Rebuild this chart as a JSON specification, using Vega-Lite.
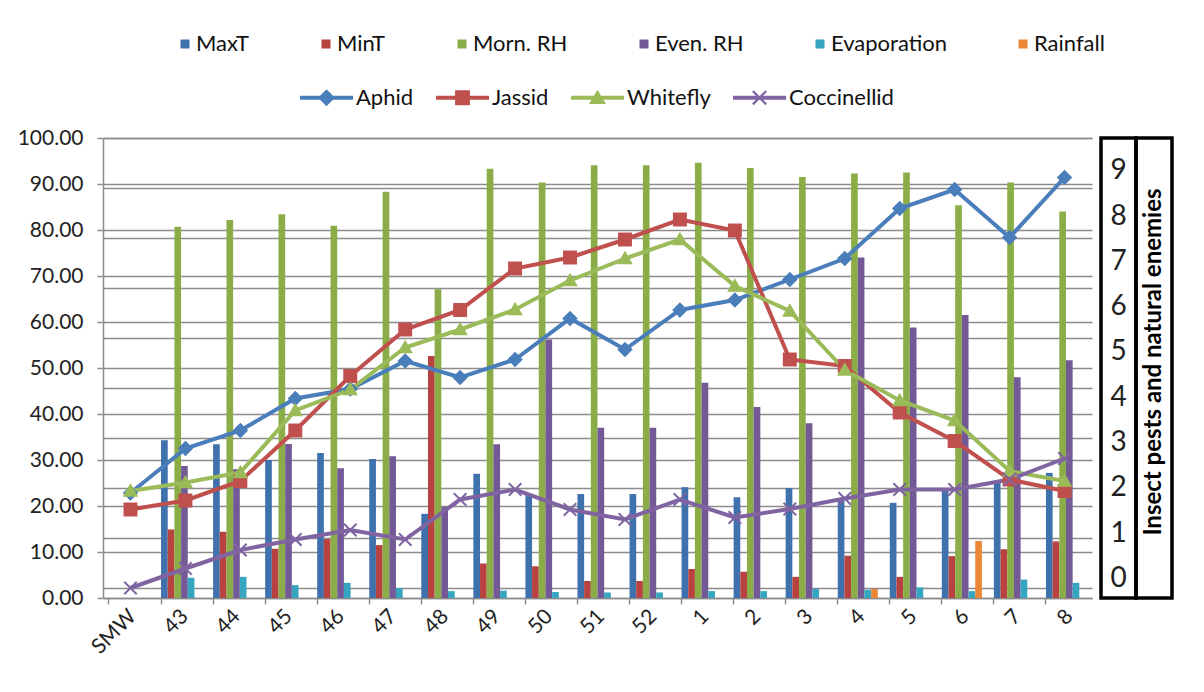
{
  "$schema": "https://vega.github.io/schema/vega-lite/v6.json",
  "background": "white",
  "padding": {"left": 8, "top": 33, "right": 5, "bottom": 5},
  "config": {
    "font": "Lato",
    "axis": {"labelFont": "Lato", "labelColor": "#222222", "domainColor": "#8c8c8c", "tickColor": "#8c8c8c", "gridColor": "#8c8c8c", "gridWidth": 1.5, "domainWidth": 1.5, "tickWidth": 1.5},
    "legend": {"labelFont": "Lato", "labelColor": "#111111"}
  },
  "datasets": {
    "weather": [
      {"week": "43", "var": "MaxT", "value": 34.3}, {"week": "43", "var": "MinT", "value": 14.9}, {"week": "43", "var": "Morn. RH", "value": 80.7}, {"week": "43", "var": "Even. RH", "value": 28.7}, {"week": "43", "var": "Evaporation", "value": 4.4}, {"week": "43", "var": "Rainfall", "value": 0},
      {"week": "44", "var": "MaxT", "value": 33.4}, {"week": "44", "var": "MinT", "value": 14.4}, {"week": "44", "var": "Morn. RH", "value": 82.2}, {"week": "44", "var": "Even. RH", "value": 28.0}, {"week": "44", "var": "Evaporation", "value": 4.6}, {"week": "44", "var": "Rainfall", "value": 0},
      {"week": "45", "var": "MaxT", "value": 30.0}, {"week": "45", "var": "MinT", "value": 10.7}, {"week": "45", "var": "Morn. RH", "value": 83.4}, {"week": "45", "var": "Even. RH", "value": 33.5}, {"week": "45", "var": "Evaporation", "value": 2.8}, {"week": "45", "var": "Rainfall", "value": 0},
      {"week": "46", "var": "MaxT", "value": 31.5}, {"week": "46", "var": "MinT", "value": 12.8}, {"week": "46", "var": "Morn. RH", "value": 80.9}, {"week": "46", "var": "Even. RH", "value": 28.2}, {"week": "46", "var": "Evaporation", "value": 3.3}, {"week": "46", "var": "Rainfall", "value": 0},
      {"week": "47", "var": "MaxT", "value": 30.2}, {"week": "47", "var": "MinT", "value": 11.5}, {"week": "47", "var": "Morn. RH", "value": 88.3}, {"week": "47", "var": "Even. RH", "value": 30.8}, {"week": "47", "var": "Evaporation", "value": 2.1}, {"week": "47", "var": "Rainfall", "value": 0},
      {"week": "48", "var": "MaxT", "value": 18.3}, {"week": "48", "var": "MinT", "value": 52.6}, {"week": "48", "var": "Morn. RH", "value": 67.1}, {"week": "48", "var": "Even. RH", "value": 19.8}, {"week": "48", "var": "Evaporation", "value": 1.5}, {"week": "48", "var": "Rainfall", "value": 0},
      {"week": "49", "var": "MaxT", "value": 27.0}, {"week": "49", "var": "MinT", "value": 7.5}, {"week": "49", "var": "Morn. RH", "value": 93.3}, {"week": "49", "var": "Even. RH", "value": 33.4}, {"week": "49", "var": "Evaporation", "value": 1.6}, {"week": "49", "var": "Rainfall", "value": 0},
      {"week": "50", "var": "MaxT", "value": 22.4}, {"week": "50", "var": "MinT", "value": 6.9}, {"week": "50", "var": "Morn. RH", "value": 90.3}, {"week": "50", "var": "Even. RH", "value": 56.2}, {"week": "50", "var": "Evaporation", "value": 1.3}, {"week": "50", "var": "Rainfall", "value": 0},
      {"week": "51", "var": "MaxT", "value": 22.6}, {"week": "51", "var": "MinT", "value": 3.7}, {"week": "51", "var": "Morn. RH", "value": 94.1}, {"week": "51", "var": "Even. RH", "value": 37.0}, {"week": "51", "var": "Evaporation", "value": 1.2}, {"week": "51", "var": "Rainfall", "value": 0},
      {"week": "52", "var": "MaxT", "value": 22.6}, {"week": "52", "var": "MinT", "value": 3.7}, {"week": "52", "var": "Morn. RH", "value": 94.1}, {"week": "52", "var": "Even. RH", "value": 37.0}, {"week": "52", "var": "Evaporation", "value": 1.2}, {"week": "52", "var": "Rainfall", "value": 0},
      {"week": "1", "var": "MaxT", "value": 24.1}, {"week": "1", "var": "MinT", "value": 6.3}, {"week": "1", "var": "Morn. RH", "value": 94.6}, {"week": "1", "var": "Even. RH", "value": 46.8}, {"week": "1", "var": "Evaporation", "value": 1.5}, {"week": "1", "var": "Rainfall", "value": 0},
      {"week": "2", "var": "MaxT", "value": 21.9}, {"week": "2", "var": "MinT", "value": 5.7}, {"week": "2", "var": "Morn. RH", "value": 93.5}, {"week": "2", "var": "Even. RH", "value": 41.5}, {"week": "2", "var": "Evaporation", "value": 1.5}, {"week": "2", "var": "Rainfall", "value": 0},
      {"week": "3", "var": "MaxT", "value": 23.9}, {"week": "3", "var": "MinT", "value": 4.6}, {"week": "3", "var": "Morn. RH", "value": 91.5}, {"week": "3", "var": "Even. RH", "value": 38.0}, {"week": "3", "var": "Evaporation", "value": 2.0}, {"week": "3", "var": "Rainfall", "value": 0},
      {"week": "4", "var": "MaxT", "value": 21.1}, {"week": "4", "var": "MinT", "value": 9.2}, {"week": "4", "var": "Morn. RH", "value": 92.3}, {"week": "4", "var": "Even. RH", "value": 74.0}, {"week": "4", "var": "Evaporation", "value": 1.8}, {"week": "4", "var": "Rainfall", "value": 2.0},
      {"week": "5", "var": "MaxT", "value": 20.7}, {"week": "5", "var": "MinT", "value": 4.6}, {"week": "5", "var": "Morn. RH", "value": 92.5}, {"week": "5", "var": "Even. RH", "value": 58.8}, {"week": "5", "var": "Evaporation", "value": 2.3}, {"week": "5", "var": "Rainfall", "value": 0},
      {"week": "6", "var": "MaxT", "value": 23.3}, {"week": "6", "var": "MinT", "value": 9.1}, {"week": "6", "var": "Morn. RH", "value": 85.4}, {"week": "6", "var": "Even. RH", "value": 61.5}, {"week": "6", "var": "Evaporation", "value": 1.5}, {"week": "6", "var": "Rainfall", "value": 12.4},
      {"week": "7", "var": "MaxT", "value": 25.0}, {"week": "7", "var": "MinT", "value": 10.6}, {"week": "7", "var": "Morn. RH", "value": 90.3}, {"week": "7", "var": "Even. RH", "value": 48.0}, {"week": "7", "var": "Evaporation", "value": 4.0}, {"week": "7", "var": "Rainfall", "value": 0},
      {"week": "8", "var": "MaxT", "value": 27.2}, {"week": "8", "var": "MinT", "value": 12.3}, {"week": "8", "var": "Morn. RH", "value": 84.0}, {"week": "8", "var": "Even. RH", "value": 51.7}, {"week": "8", "var": "Evaporation", "value": 3.3}, {"week": "8", "var": "Rainfall", "value": 0}
    ],
    "insects": [
      {"week": "43", "series": "Aphid", "value": 1.90}, {"week": "44", "series": "Aphid", "value": 2.79}, {"week": "45", "series": "Aphid", "value": 3.15}, {"week": "46", "series": "Aphid", "value": 3.79}, {"week": "47", "series": "Aphid", "value": 3.98}, {"week": "48", "series": "Aphid", "value": 4.54}, {"week": "49", "series": "Aphid", "value": 4.21}, {"week": "50", "series": "Aphid", "value": 4.57}, {"week": "51", "series": "Aphid", "value": 5.39}, {"week": "52", "series": "Aphid", "value": 4.77}, {"week": "1", "series": "Aphid", "value": 5.56}, {"week": "2", "series": "Aphid", "value": 5.76}, {"week": "3", "series": "Aphid", "value": 6.17}, {"week": "4", "series": "Aphid", "value": 6.59}, {"week": "5", "series": "Aphid", "value": 7.59}, {"week": "6", "series": "Aphid", "value": 7.97}, {"week": "7", "series": "Aphid", "value": 7.01}, {"week": "8", "series": "Aphid", "value": 8.21},
      {"week": "43", "series": "Jassid", "value": 1.57}, {"week": "44", "series": "Jassid", "value": 1.75}, {"week": "45", "series": "Jassid", "value": 2.14}, {"week": "46", "series": "Jassid", "value": 3.15}, {"week": "47", "series": "Jassid", "value": 4.24}, {"week": "48", "series": "Jassid", "value": 5.17}, {"week": "49", "series": "Jassid", "value": 5.56}, {"week": "50", "series": "Jassid", "value": 6.39}, {"week": "51", "series": "Jassid", "value": 6.61}, {"week": "52", "series": "Jassid", "value": 6.97}, {"week": "1", "series": "Jassid", "value": 7.37}, {"week": "2", "series": "Jassid", "value": 7.15}, {"week": "3", "series": "Jassid", "value": 4.57}, {"week": "4", "series": "Jassid", "value": 4.44}, {"week": "5", "series": "Jassid", "value": 3.51}, {"week": "6", "series": "Jassid", "value": 2.94}, {"week": "7", "series": "Jassid", "value": 2.17}, {"week": "8", "series": "Jassid", "value": 1.94},
      {"week": "43", "series": "Whitefly", "value": 1.94}, {"week": "44", "series": "Whitefly", "value": 2.11}, {"week": "45", "series": "Whitefly", "value": 2.31}, {"week": "46", "series": "Whitefly", "value": 3.55}, {"week": "47", "series": "Whitefly", "value": 3.97}, {"week": "48", "series": "Whitefly", "value": 4.81}, {"week": "49", "series": "Whitefly", "value": 5.17}, {"week": "50", "series": "Whitefly", "value": 5.57}, {"week": "51", "series": "Whitefly", "value": 6.15}, {"week": "52", "series": "Whitefly", "value": 6.59}, {"week": "1", "series": "Whitefly", "value": 6.97}, {"week": "2", "series": "Whitefly", "value": 6.04}, {"week": "3", "series": "Whitefly", "value": 5.54}, {"week": "4", "series": "Whitefly", "value": 4.36}, {"week": "5", "series": "Whitefly", "value": 3.75}, {"week": "6", "series": "Whitefly", "value": 3.35}, {"week": "7", "series": "Whitefly", "value": 2.34}, {"week": "8", "series": "Whitefly", "value": 2.14},
      {"week": "43", "series": "Coccinellid", "value": 0.0}, {"week": "44", "series": "Coccinellid", "value": 0.39}, {"week": "45", "series": "Coccinellid", "value": 0.76}, {"week": "46", "series": "Coccinellid", "value": 0.97}, {"week": "47", "series": "Coccinellid", "value": 1.16}, {"week": "48", "series": "Coccinellid", "value": 0.97}, {"week": "49", "series": "Coccinellid", "value": 1.77}, {"week": "50", "series": "Coccinellid", "value": 1.97}, {"week": "51", "series": "Coccinellid", "value": 1.57}, {"week": "52", "series": "Coccinellid", "value": 1.37}, {"week": "1", "series": "Coccinellid", "value": 1.77}, {"week": "2", "series": "Coccinellid", "value": 1.41}, {"week": "3", "series": "Coccinellid", "value": 1.58}, {"week": "4", "series": "Coccinellid", "value": 1.79}, {"week": "5", "series": "Coccinellid", "value": 1.97}, {"week": "6", "series": "Coccinellid", "value": 1.97}, {"week": "7", "series": "Coccinellid", "value": 2.17}, {"week": "8", "series": "Coccinellid", "value": 2.59}
    ]
  },
  "spacing": 9,
  "bounds": "flush",
  "hconcat": [
    {
      "width": 989,
      "height": 460,
      "view": {"stroke": null},
      "layer": [
        {
          "data": {"name": "weather"},
          "mark": {"type": "bar"},
          "encoding": {
            "x": {"field": "week", "type": "nominal",
              "scale": {"domain": ["SMW", "43", "44", "45", "46", "47", "48", "49", "50", "51", "52", "1", "2", "3", "4", "5", "6", "7", "8"], "paddingInner": 0.23, "paddingOuter": 0.115},
              "axis": {"title": null, "orient": "bottom", "labelAngle": -45, "labelAlign": "right", "labelBaseline": "middle", "labelFontSize": 21, "bandPosition": 0, "labelOffset": 4, "tickSize": 6, "labelPadding": 9, "grid": false}},
            "xOffset": {"field": "var", "type": "nominal", "scale": {"domain": ["MaxT", "MinT", "Morn. RH", "Even. RH", "Evaporation", "Rainfall"], "paddingInner": 0, "paddingOuter": 0}},
            "y": {"field": "value", "type": "quantitative", "scale": {"domain": [0, 100], "nice": false},
              "axis": {"title": null, "orient": "left", "values": [0, 10, 20, 30, 40, 50, 60, 70, 80, 90, 100], "format": ".2f", "labelFontSize": 21, "tickSize": 6, "labelPadding": 14, "grid": true, "minExtent": 95, "maxExtent": 95}},
            "color": {"field": "var", "type": "nominal",
              "scale": {"domain": ["MaxT", "MinT", "Morn. RH", "Even. RH", "Evaporation", "Rainfall"], "range": ["#3f72ad", "#b8423f", "#8aad47", "#735a96", "#36a5bf", "#ea8838"]},
              "legend": {"title": null, "orient": "none", "legendX": 71, "legendY": -105, "direction": "horizontal", "columns": 6, "symbolType": "square", "symbolSize": 81, "symbolStrokeWidth": 0, "labelFontSize": 22, "labelOffset": 0, "columnPadding": 65}}
          }
        },
        {
          "data": {"name": "insects"},
          "encoding": {
            "x": {"field": "week", "type": "nominal", "sort": ["43", "44", "45", "46", "47", "48", "49", "50", "51", "52", "1", "2", "3", "4", "5", "6", "7", "8"], "scale": {"type": "point", "padding": 0.5}, "axis": null},
            "y": {"field": "value", "type": "quantitative", "scale": {"domain": [-0.2, 9], "nice": false, "zero": false},
              "axis": {"orient": "right", "title": null, "values": [0, 1, 2, 3, 4, 5, 6, 7, 8, 9], "labels": false, "ticks": false, "domain": false, "grid": true, "minExtent": 0, "maxExtent": 0}},
            "color": {"field": "series", "type": "nominal", "scale": {"domain": ["Aphid", "Jassid", "Whitefly", "Coccinellid"], "range": ["#4a7ebb", "#c0504d", "#9bbb59", "#8064a2"]}, "legend": null}
          },
          "layer": [
            {"mark": {"type": "line", "strokeWidth": 4}},
            {
              "mark": {"type": "point", "filled": true, "opacity": 1, "size": 240, "strokeWidth": 0},
              "encoding": {
                "shape": {"field": "series", "type": "nominal", "scale": {"domain": ["Aphid", "Jassid", "Whitefly", "Coccinellid"], "range": ["M0,-1L1,0L0,1L-1,0Z", "M-0.9,-0.9H0.9V0.9H-0.9Z", "M0,-1L1,0.75H-1Z", "M-0.9,-0.72L-0.72,-0.9L0.9,0.72L0.72,0.9Z M0.72,-0.9L0.9,-0.72L-0.72,0.9L-0.9,0.72Z"]}, "legend": null}
              }
            }
          ]
        },
        {
          "data": {"name": "insects"},
          "mark": {"type": "point", "filled": true, "opacity": 0},
          "encoding": {
            "x": {"field": "week", "type": "nominal", "axis": null},
            "y": {"field": "value", "type": "quantitative", "axis": null},
            "color": {"field": "series", "type": "nominal", "scale": {"domain": ["Aphid", "Jassid", "Whitefly", "Coccinellid"], "range": ["#4a7ebb", "#c0504d", "#9bbb59", "#8064a2"]},
              "legend": {"title": null, "orient": "none", "legendX": 197, "legendY": -67, "direction": "horizontal", "columns": 4, "symbolSize": 2809, "symbolStrokeWidth": 0, "symbolOpacity": 1, "labelFontSize": 22, "labelOffset": 3, "columnPadding": 22}},
            "shape": {"field": "series", "type": "nominal", "scale": {"domain": ["Aphid", "Jassid", "Whitefly", "Coccinellid"], "range": ["M-1,-0.075H1V0.075H-1Z M0,-0.32L0.32,0L0,0.32L-0.32,0Z", "M-1,-0.075H1V0.075H-1Z M-0.28,-0.28H0.28V0.28H-0.28Z", "M-1,-0.075H1V0.075H-1Z M0,-0.3L0.32,0.24H-0.32Z", "M-1,-0.075H1V0.075H-1Z M-0.28,-0.22L-0.22,-0.28L0.28,0.22L0.22,0.28Z M0.22,-0.28L0.28,-0.22L-0.22,0.28L-0.28,0.22Z"]},
              "legend": {"title": null, "orient": "none", "legendX": 197, "legendY": -67, "direction": "horizontal", "columns": 4, "symbolSize": 2809, "symbolStrokeWidth": 0, "symbolOpacity": 1, "labelFontSize": 22, "labelOffset": 3, "columnPadding": 22}}
          }
        }
      ],
      "resolve": {"scale": {"x": "independent", "y": "independent", "color": "independent", "shape": "independent"}}
    },
    {
      "spacing": 0,
      "bounds": "flush",
      "hconcat": [
        {
          "width": 35,
          "height": 460,
          "view": {"stroke": "black", "strokeWidth": 3.5},
          "data": {"values": [{"n": 0}, {"n": 1}, {"n": 2}, {"n": 3}, {"n": 4}, {"n": 5}, {"n": 6}, {"n": 7}, {"n": 8}, {"n": 9}]},
          "mark": {"type": "text", "fontSize": 28, "font": "Lato", "color": "#222222", "baseline": "middle", "align": "center"},
          "encoding": {
            "y": {"field": "n", "type": "quantitative", "scale": {"domain": [-0.42, 9.735], "nice": false, "zero": false}, "axis": null},
            "text": {"field": "n", "type": "quantitative"}
          }
        },
        {
          "width": 36,
          "height": 460,
          "view": {"stroke": "black", "strokeWidth": 3.5},
          "data": {"values": [{"label": "Insect pests and  natural enemies"}]},
          "mark": {"type": "text", "angle": 270, "fontSize": 24, "fontWeight": "bold", "font": "Lato", "color": "#000000", "baseline": "middle", "align": "center", "dx": 6},
          "encoding": {
            "text": {"field": "label", "type": "nominal"}
          }
        }
      ]
    }
  ]
}
